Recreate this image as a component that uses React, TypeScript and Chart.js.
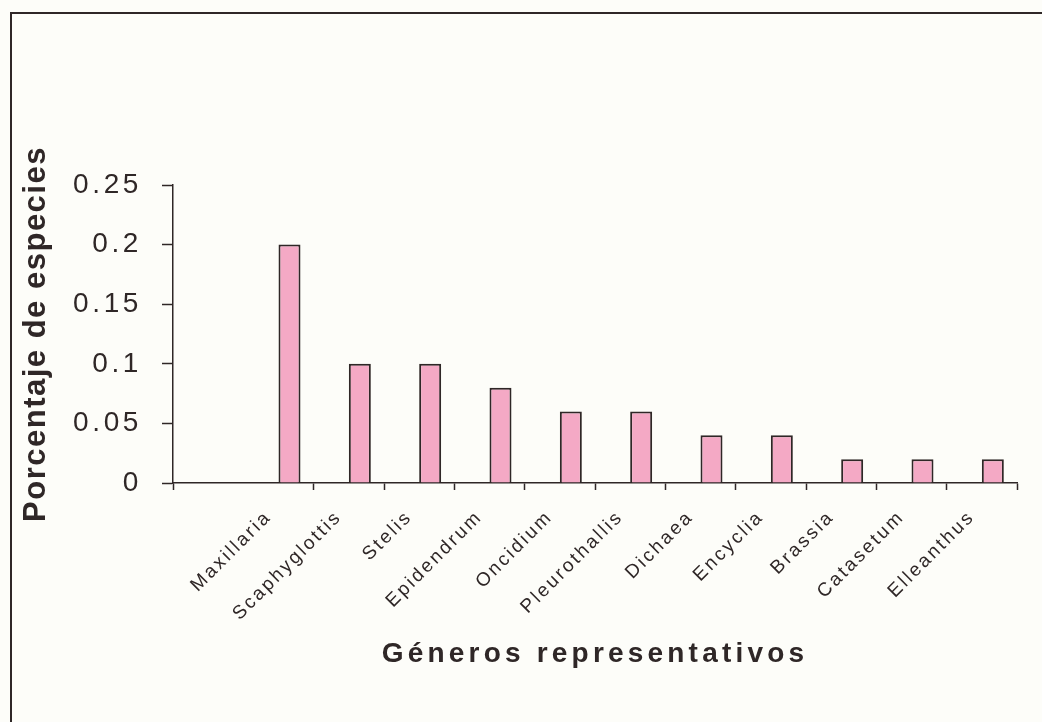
import React, { useEffect, useRef } from 'react';
import { Chart, registerables } from 'chart.js';

Chart.register(...registerables);

// ---- data ----
const categories = ['', 'Maxillaria', 'Scaphyglottis', 'Stelis', 'Epidendrum', 'Oncidium', 'Pleurothallis', 'Dichaea', 'Encyclia', 'Brassia', 'Catasetum', 'Elleanthus'];
const percentages: (number | null)[] = [null, 0.2, 0.1, 0.1, 0.08, 0.06, 0.06, 0.04, 0.04, 0.02, 0.02, 0.02];
const spacerValues: (number | null)[] = categories.map(() => null);
const yMin = 0;
const yMax = 0.25;
const yStep = 0.05;
const xTitle = 'Géneros representativos';
const yTitle = 'Porcentaje de especies';

const INK = '#2f2727';
const PINK = '#f4a9c5';
const FONT = '"Liberation Sans", Arial, sans-serif';

const X_LABEL_SIZE = 19;
const Y_TICK_SIZE = 28;
const X_TITLE_SIZE = 28;
const Y_TITLE_SIZE = 31;

function spacingFor(font: string): number {
  const m = /(\d+(?:\.\d+)?)px/.exec(font);
  if (!m) return 0;
  const px = parseFloat(m[1]);
  const bold = /bold|700/.test(font);
  if (bold && px === Y_TITLE_SIZE) return 1.5;
  if (bold && px === X_TITLE_SIZE) return 4.2;
  if (px === Y_TICK_SIZE) return 3.6;
  if (px === X_LABEL_SIZE) return 2.5;
  return 0;
}

function patchLetterSpacing(ctx: CanvasRenderingContext2D) {
  const setLS = () => {
    (ctx as any).letterSpacing = spacingFor(ctx.font).toFixed(1) + 'px';
  };
  const origFill = ctx.fillText.bind(ctx);
  const origMeasure = ctx.measureText.bind(ctx);
  (ctx as any).fillText = (t: string, x: number, y: number, w?: number) => {
    setLS();
    if (w === undefined) origFill(t, x, y);
    else origFill(t, x, y, w);
  };
  (ctx as any).measureText = (t: string) => {
    setLS();
    return origMeasure(t);
  };
}

export default function App() {
  const ref = useRef<HTMLCanvasElement | null>(null);

  useEffect(() => {
    const canvas = ref.current;
    if (!canvas) return;
    const ctx = canvas.getContext('2d')!;
    patchLetterSpacing(ctx);

    const chart = new Chart(canvas, {
      type: 'bar',
      data: {
        labels: categories,
        datasets: [
          { label: 'spacer', data: spacerValues, backgroundColor: PINK },
          {
            label: yTitle,
            data: percentages,
            backgroundColor: PINK,
            borderColor: INK,
            borderWidth: 2,
          },
        ],
      },
      options: {
        animation: false,
        responsive: true,
        maintainAspectRatio: false,
        layout: { padding: { left: 0, right: 25, top: 185, bottom: 0 } },
        datasets: { bar: { categoryPercentage: 0.6256, barPercentage: 1.0 } } as any,
        plugins: {
          legend: { display: false },
          tooltip: { enabled: false },
        },
        scales: {
          x: {
            offset: true,
            grid: {
              offset: true,
              drawOnChartArea: false,
              drawTicks: true,
              tickLength: 7,
              tickWidth: 1.5,
              tickColor: (c: any) => (c.index === 1 ? 'rgba(0,0,0,0)' : INK),
            },
            border: { display: true, color: INK, width: 1.5 },
            ticks: {
              autoSkip: false,
              minRotation: 45,
              maxRotation: 45,
              padding: 16,
              labelOffset: -10,
              color: INK,
              font: { family: FONT, size: X_LABEL_SIZE },
            },
            title: {
              display: true,
              text: xTitle,
              color: INK,
              font: { family: FONT, size: X_TITLE_SIZE, weight: 'bold' },
              padding: { top: 0, bottom: 51 },
            },
            afterFit: (s: any) => {
              s.height = 239;
            },
          },
          y: {
            min: yMin,
            max: yMax,
            grid: {
              drawOnChartArea: false,
              drawTicks: true,
              tickLength: 11,
              tickWidth: 1.5,
              tickColor: INK,
            },
            border: { display: true, color: INK, width: 1.5 },
            ticks: {
              stepSize: yStep,
              padding: 20,
              color: INK,
              font: { family: FONT, size: Y_TICK_SIZE },
              callback: (v: any) => String(Math.round(Number(v) * 100) / 100),
            },
            title: {
              display: true,
              text: yTitle,
              color: INK,
              font: { family: FONT, size: Y_TITLE_SIZE, weight: 'bold' },
              padding: { top: 18, bottom: 0 },
            },
            afterFit: (s: any) => {
              s.width = 173;
            },
          },
        },
      } as any,
    });

    return () => chart.destroy();
  }, []);

  return (
    <div style={{ position: 'fixed', left: 0, top: 0, width: 1042, height: 722, overflow: 'hidden', background: '#fdfdf9' }}>
      <div
        style={{
          position: 'absolute',
          left: 10,
          top: 12,
          width: 1200,
          height: 900,
          borderLeft: `2px solid ${INK}`,
          borderTop: `2px solid ${INK}`,
        }}
      />
      <div style={{ position: 'absolute', left: 0, top: 0, width: 1042, height: 722 }}>
        <canvas ref={ref} />
      </div>
    </div>
  );
}
